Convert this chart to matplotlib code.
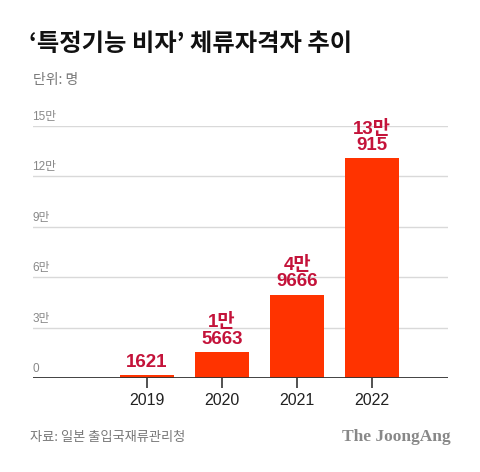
import matplotlib
matplotlib.use("Agg")
import matplotlib.pyplot as plt
import matplotlib.transforms as mtransforms

plt.rcParams["font.family"] = ["Noto Sans CJK KR", "DejaVu Sans"]

years = ["2019", "2020", "2021", "2022"]
values = [1621, 15663, 49666, 130915]
bar_labels = ["1621", "1만\n5663", "4만\n9666", "13만\n915"]
yticks = [0, 30000, 60000, 90000, 120000, 150000]
ytick_labels = ["0", "3만", "6만", "9만", "12만", "15만"]

BAR = "#ff3300"
LABEL = "#c4133a"
GRAY = "#777777"
MIX = ["Liberation Sans", "Noto Sans CJK KR"]

fig = plt.figure(figsize=(4.8, 4.72), dpi=100)
ax = fig.add_axes([33 / 480, 1 - 378 / 472, 415 / 480, 252 / 472])

x = list(range(len(years)))
ax.bar(x, values, width=0.72, color=BAR, zorder=3)
ax.set_xlim(-1.52, 4.01)
ax.set_ylim(0, 150000)

for v in yticks[1:]:
    ax.axhline(v, color="#d9d9d9", lw=1, zorder=1)
ax.axhline(0, color="#333333", lw=1.3, zorder=4)

off = mtransforms.offset_copy(ax.transData, fig=fig, x=0, y=3, units="dots")
blend = mtransforms.blended_transform_factory(ax.transAxes, off)
for v, lab in zip(yticks, ytick_labels):
    ax.text(-0.002, v, lab, transform=blend, ha="left", va="bottom",
            fontsize=8.5, color="#888888", family=MIX)

for xi, v, lab in zip(x, values, bar_labels):
    ax.annotate(lab, (xi, v), xytext=(0, 3), textcoords="offset points",
                ha="center", va="bottom", fontsize=13.5, fontweight="bold",
                color=LABEL, linespacing=0.95, family=MIX)

ax.set_yticks([])
ax.set_xticks(x)
ax.set_xticklabels(years, fontsize=11.5, color="#222222", family="Liberation Sans")
ax.tick_params(axis="x", length=7, width=1.2, color="#333333", pad=4)
for s in ax.spines.values():
    s.set_visible(False)

fig.text(29 / 480, 1 - 44 / 472, "‘특정기능 비자’ 체류자격자 추이", fontsize=17.5,
         fontweight="heavy", ha="left", va="center", color="#111111")
fig.text(33 / 480, 1 - 80 / 472, "단위: 명", fontsize=10, ha="left",
         va="center", color=GRAY)
fig.text(30 / 480, 1 - 437 / 472, "자료: 일본 출입국재류관리청", fontsize=9.5,
         ha="left", va="center", color=GRAY)
fig.text(451 / 480, 1 - 437 / 472, "The JoongAng", fontsize=12.5,
         fontweight="bold", family="Liberation Serif", ha="right",
         va="center", color="#888888")

fig.savefig("out.png", dpi=100)
